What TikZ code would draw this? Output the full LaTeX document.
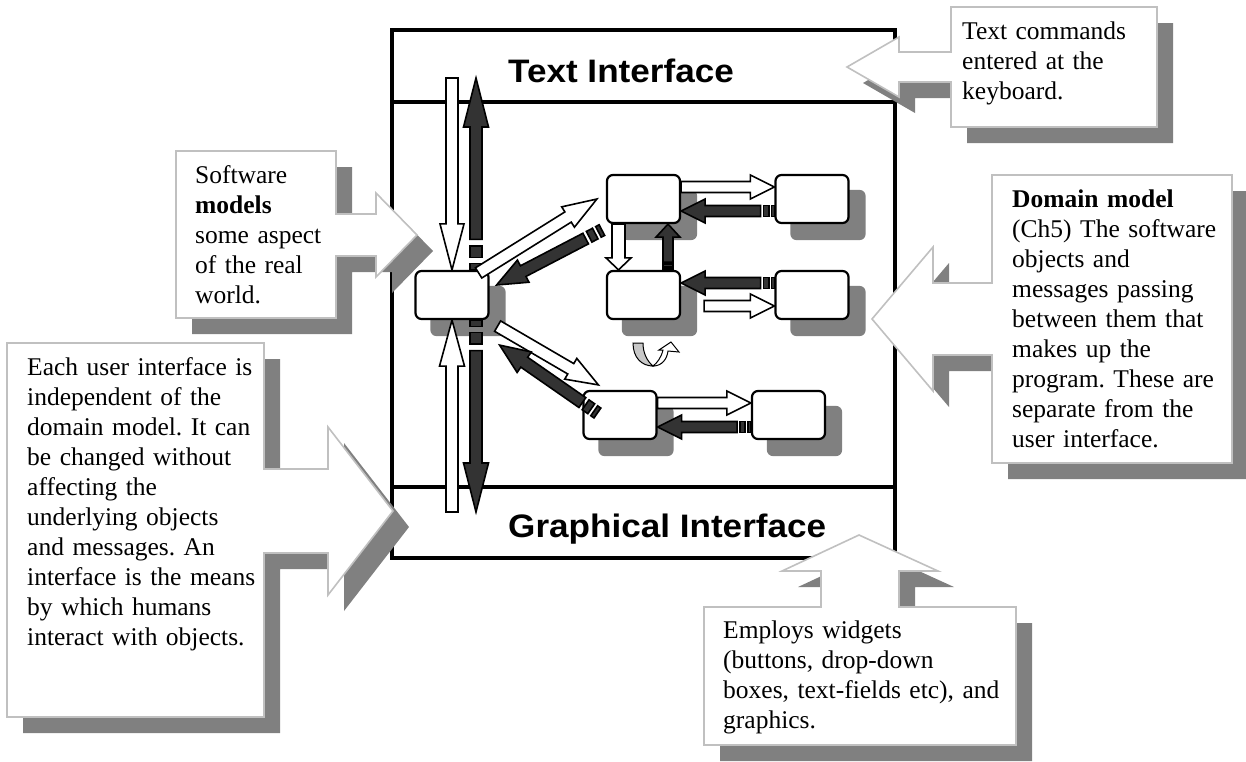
\documentclass[tikz,border=0pt]{standalone}
\usepackage{fontspec}
\setmainfont{Liberation Serif}
\newfontfamily\headfamily[FakeStretch=1.08]{Liberation Sans}
\usetikzlibrary{calc}
\frenchspacing

\definecolor{darkfill}{HTML}{333333}
\definecolor{shade}{HTML}{808080}
\definecolor{calloutedge}{HTML}{C0C0C0}
\definecolor{curvegray}{HTML}{C8C8C8}

\newcommand\notefont{\fontsize{25.5}{30}\selectfont}
\newcommand\titlefont{\headfamily\bfseries\fontsize{32.5}{38}\selectfont}

\pgfdeclarelayer{frame}
\pgfdeclarelayer{shadelayer}
\pgfdeclarelayer{arrows}
\pgfsetlayers{frame,shadelayer,arrows,main}

% block arrow: #1 style, #2 tail, #3 tip, #4 half shaft, #5 half head, #6 head length
\newcommand\flatarrow[6]{%
  \coordinate (fa-h) at ($(#3)!#6!(#2)$);
  \path[#1] ($(#2)!#4!90:(#3)$) -- ($(fa-h)!#4!90:(#3)$) -- ($(fa-h)!#5!90:(#3)$)
    -- (#3) -- ($(fa-h)!#5!-90:(#3)$) -- ($(fa-h)!#4!-90:(#3)$) -- ($(#2)!#4!-90:(#3)$) -- cycle;
}
% striped block arrow: #1 style, #2 stripe scale, #3 tail, #4 tip, #5 half shaft, #6 half head, #7 head length
\newcommand\stripedarrow[7]{%
  \pgfmathsetmacro\saA{#2*6.5}\pgfmathsetmacro\saB{#2*12.5}%
  \pgfmathsetmacro\saC{#2*24}\pgfmathsetmacro\saD{#2*30.5}%
  \coordinate (sa-a) at ($(#3)!{\saA pt}!(#4)$);
  \coordinate (sa-b) at ($(#3)!{\saB pt}!(#4)$);
  \coordinate (sa-c) at ($(#3)!{\saC pt}!(#4)$);
  \coordinate (sa-d) at ($(#3)!{\saD pt}!(#4)$);
  \path[#1] ($(#3)!#5!90:(#4)$) -- ($(sa-a)!#5!90:(#4)$) -- ($(sa-a)!#5!-90:(#4)$) -- ($(#3)!#5!-90:(#4)$) -- cycle;
  \path[#1] ($(sa-b)!#5!90:(#4)$) -- ($(sa-c)!#5!90:(#4)$) -- ($(sa-c)!#5!-90:(#4)$) -- ($(sa-b)!#5!-90:(#4)$) -- cycle;
  \flatarrow{#1}{sa-d}{#4}{#5}{#6}{#7}
}

% callout outlines
\newcommand\keyboardcallout[1]{\path[#1] (951,7) -- (1157,7) -- (1157,127) -- (951,127) -- (951,82)
  -- (899,82) -- (899,97) -- (847,67) -- (899,37) -- (899,52) -- (951,52) -- cycle;}
\newcommand\domaincallout[1]{\path[#1] (992,175) -- (1232,175) -- (1232,463) -- (992,463) -- (992,355)
  -- (933,355) -- (933,391) -- (872,319) -- (933,247) -- (933,283) -- (992,283) -- cycle;}
\newcommand\softwarecallout[1]{\path[#1] (176,151) -- (336,151) -- (336,214) -- (376,214) -- (376,193)
  -- (417,235) -- (376,277) -- (376,256) -- (336,256) -- (336,318) -- (176,318) -- cycle;}
\newcommand\uicallout[1]{\path[#1] (7,343) -- (264,343) -- (264,469) -- (328,469) -- (328,427)
  -- (393,511) -- (328,595) -- (328,553) -- (264,553) -- (264,717) -- (7,717) -- cycle;}
\newcommand\guicallout[1]{\path[#1] (704,607) -- (821,607) -- (821,571) -- (782,571) -- (859,535)
  -- (938,571) -- (899,571) -- (899,607) -- (1016,607) -- (1016,745) -- (704,745) -- cycle;}

\begin{document}
\begin{tikzpicture}[x=1pt,y=-1pt,
  frameline/.style={line width=4pt},
  objbox/.style={draw, line width=2.2pt, fill=white, rounded corners=6pt,
    minimum width=73pt, minimum height=48pt, inner sep=0pt},
  boxshade/.style={fill=shade, rounded corners=6pt},
  lightarrow/.style={draw=black, line width=1.6pt, fill=white},
  darkarrow/.style={draw=black, line width=1.6pt, fill=darkfill},
  calloutshape/.style={draw=calloutedge, line width=1.6pt, fill=white},
  calloutshade/.style={fill=shade, shift={(16,16)}},
  note/.style={anchor=base west, inner sep=0pt, text width=300pt, align=left, font=\notefont},
  title/.style={anchor=base west, inner sep=0pt, font=\titlefont}]
\useasboundingbox (0,0) rectangle (1246,761);

% outer frame with the two interface bands
\begin{pgfonlayer}{frame}
  \draw[frameline] (392,30) rectangle (895,558);
  \draw[frameline] (392,102) -- (895,102);
  \draw[frameline] (392,487) -- (895,487);
  \node[title] (ti) at (508,82) {Text Interface};
  \node[title] (gi) at (508,537) {Graphical Interface};
\end{pgfonlayer}

% domain objects
\node[objbox] (c)  at (452,295) {};
\node[objbox] (t1) at (643.5,199) {};
\node[objbox] (t2) at (812,199) {};
\node[objbox] (m1) at (643.5,295) {};
\node[objbox] (m2) at (812,295) {};
\node[objbox] (b1) at (620,415) {};
\node[objbox] (b2) at (788.5,415) {};

\begin{pgfonlayer}{shadelayer}
  \foreach \b in {c,t1,t2,m1,m2,b1,b2}
    \fill[boxshade] ([shift={(16,16)}]\b.north west) rectangle ([shift={(16,16)}]\b.south east);
\end{pgfonlayer}

% end points of the messages
\coordinate (ti-a) at (452,78);
\coordinate (ti-b) at (476,78);
\coordinate (gi-a) at (452,512);
\coordinate (gi-b) at (476,512);
\coordinate (c-nr) at ([xshift=24pt]c.north);
\coordinate (c-sr) at ([xshift=24pt]c.south);
\coordinate (t1-up) at ([yshift=12pt]t1.east);
\coordinate (t1-dn) at ([yshift=-12pt]t1.east);
\coordinate (t2-up) at ([yshift=12pt]t2.west);
\coordinate (t2-dn) at ([yshift=-12pt]t2.west);
\coordinate (m1-up) at ([yshift=12pt]m1.east);
\coordinate (m1-dn) at ([shift={(23,11)}]m1.east);
\coordinate (m2-up) at ([yshift=12pt]m2.west);
\coordinate (m2-dn) at ([yshift=-11pt]m2.west);
\coordinate (b1-up) at ([yshift=12pt]b1.east);
\coordinate (b1-dn) at ([yshift=-12pt]b1.east);
\coordinate (b2-up) at ([yshift=12pt]b2.west);
\coordinate (b2-dn) at ([yshift=-12pt]b2.west);
\coordinate (t1-sl) at ([xshift=-25pt]t1.south);
\coordinate (m1-nl) at ([xshift=-25pt]m1.north);
\coordinate (t1-sr) at ([xshift=24.5pt]t1.south);
\coordinate (m1-nr) at ([xshift=24.5pt]m1.north);
\coordinate (d1-tail) at ([shift={(-11,3)}]c.north east);
\coordinate (d1-tip)  at ([xshift=-9pt]t1.west);
\coordinate (d2-tail) at ([shift={(-4,6)}]t1.south west);
\coordinate (d2-tip)  at ([shift={(7,-10)}]c.east);
\coordinate (d3-tail) at ([shift={(8,6)}]c.south east);
\coordinate (d3-tip)  at ([shift={(16,-5)}]b1.north west);
\coordinate (d4-tail) at ([shift={(15,-2)}]b1.west);
\coordinate (d4-tip)  at ([shift={(10,25)}]c.south east);

\begin{pgfonlayer}{arrows}
  % to and from the two interfaces
  \flatarrow{lightarrow}{ti-a}{c.north}{6pt}{12pt}{46pt}
  \stripedarrow{darkarrow}{1}{c-nr}{ti-b}{6pt}{12.5pt}{49pt}
  \flatarrow{lightarrow}{gi-a}{c.south}{6pt}{12.5pt}{46pt}
  \stripedarrow{darkarrow}{1}{c-sr}{gi-b}{6pt}{12.5pt}{49pt}
  % messages between the objects
  \flatarrow{lightarrow}{t1-up}{t2-up}{5.5pt}{12pt}{24pt}
  \stripedarrow{darkarrow}{0.45}{t2-dn}{t1-dn}{5.5pt}{12pt}{24pt}
  \stripedarrow{darkarrow}{0.45}{m2-up}{m1-up}{5.5pt}{12pt}{24pt}
  \flatarrow{lightarrow}{m1-dn}{m2-dn}{5.5pt}{12pt}{24pt}
  \flatarrow{lightarrow}{b1-up}{b2-up}{5.5pt}{12pt}{24pt}
  \stripedarrow{darkarrow}{0.45}{b2-dn}{b1-dn}{5.5pt}{12pt}{24pt}
  \flatarrow{lightarrow}{t1-sl}{m1-nl}{6.5pt}{12.5pt}{12pt}
  \stripedarrow{darkarrow}{0.25}{m1-nr}{t1-sr}{5pt}{12pt}{13pt}
\end{pgfonlayer}

% messages leaving the central object
\flatarrow{lightarrow}{d1-tail}{d1-tip}{6pt}{12pt}{34pt}
\stripedarrow{darkarrow}{0.6}{d2-tail}{d2-tip}{6pt}{12.5pt}{30pt}
\flatarrow{lightarrow}{d3-tail}{d3-tip}{6pt}{12pt}{32pt}
\stripedarrow{darkarrow}{0.6}{d4-tail}{d4-tip}{6pt}{12.5pt}{30pt}

% small curved arrow
\draw[fill=curvegray, line width=1pt] (633,343) -- (643,343)
  .. controls (643,353) and (647,361) .. (653,366)
  .. controls (642,366) and (633,358) .. (633,343) -- cycle;
\draw[fill=white, line width=1pt] (653,366)
  .. controls (662,366) and (667,359) .. (668,351) -- (679,352) -- (671,342) -- (659,350) -- (663,350)
  .. controls (661,358) and (657,363) .. (653,366) -- cycle;

% callouts
\keyboardcallout{calloutshade}
\keyboardcallout{calloutshape}
\node[note] (kbnote) at (962,39) {Text commands\\entered at the\\keyboard.};

\domaincallout{calloutshade}
\domaincallout{calloutshape}
\node[note] (domnote) at (1012,207) {\textbf{Domain model}\\(Ch5) The software\\objects and\\messages passing\\between them that\\makes up the\\program. These are\\separate from the\\user interface.};

\softwarecallout{calloutshade}
\softwarecallout{calloutshape}
\node[note] (swnote) at (195,183) {Software\\\textbf{models}\\some aspect\\of the real\\world.};

\uicallout{calloutshade}
\uicallout{calloutshape}
\node[note] (uinote) at (27,375) {Each user interface is\\independent of the\\domain model. It can\\be changed without\\affecting the\\underlying objects\\and messages. An\\interface is the means\\by which humans\\interact with objects.};

\guicallout{calloutshade}
\guicallout{calloutshape}
\node[note] (guinote) at (723,638) {Employs widgets\\(buttons, drop-down\\boxes, text-fields etc), and\\graphics.};
\end{tikzpicture}
\end{document}
